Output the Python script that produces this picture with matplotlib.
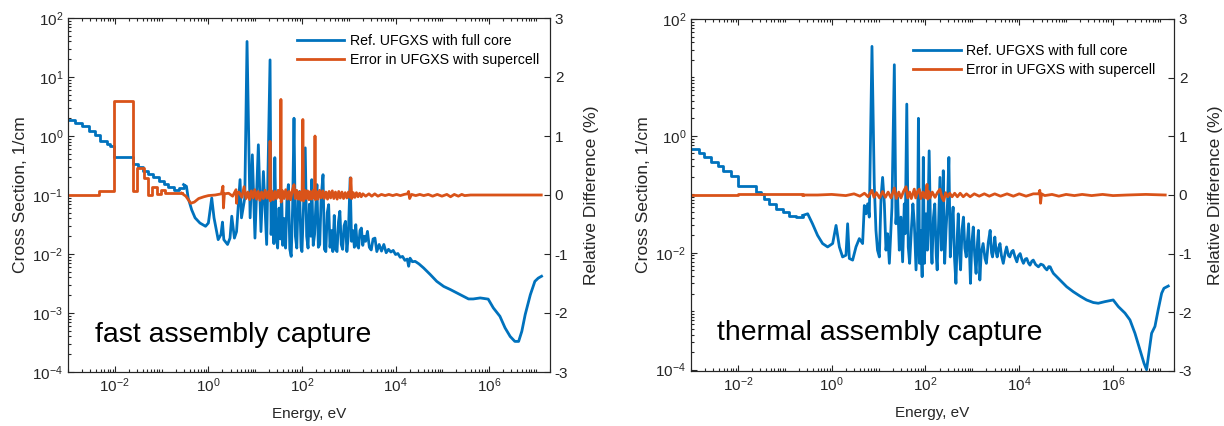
import numpy as np
import matplotlib
matplotlib.use("Agg")
import matplotlib.pyplot as plt
from matplotlib.ticker import (LogLocator, FixedLocator, LogFormatterSciNotation,
                               NullFormatter)

plt.rcParams['font.family'] = ['Liberation Sans', 'DejaVu Sans']
plt.rcParams['mathtext.fontset'] = 'custom'
plt.rcParams['mathtext.rm'] = 'Liberation Sans'
plt.rcParams['mathtext.it'] = 'Liberation Sans:italic'
plt.rcParams['axes.unicode_minus'] = False

BLUE = '#0072BD'
ORANGE = '#D95319'
DARK = '#262626'

# ---------------- fast assembly (left panel) ----------------
# coarse low-energy groups (stairs)
fast_grp_E = [1e-3, 1.43e-3, 1.98e-3, 2.75e-3, 3.8e-3, 4.9e-3, 6.8e-3, 8.0e-3, 9.4e-3, 0.025,
              0.032, 0.041, 0.052, 0.067, 0.086, 0.11, 0.14, 0.188, 0.236, 0.295]
fast_grp_xs = [1.89, 1.66, 1.46, 1.2, 1.05, 0.81, 0.73, 0.67, 0.435, 0.335,
               0.295, 0.258, 0.227, 0.2, 0.175, 0.153, 0.135, 0.123, 0.131, 0.15]
# fine groups (resonance region and above)
fast_E = [0.295, 0.34, 0.37, 0.44, 0.52, 0.66, 0.87, 1.0, 1.18, 1.32,
          1.62, 1.86, 2.0, 2.14, 2.57, 2.9, 3.16, 3.6, 4.0, 4.75,
          5.1, 6.0, 6.7, 7.8, 8.7, 9.9, 11.7, 13.3, 15, 17.6,
          20.8, 21.9, 23.4, 25.1, 26.3, 28.2, 30.2, 32.4, 34.7, 36.7,
          38.9, 41.7, 44.7, 47.9, 51.3, 55, 58.9, 63.1, 67.6, 72.4,
          77.6, 83.2, 89.1, 95.5, 100, 107, 117.5, 126, 135, 144.5,
          155, 162, 174, 186, 200, 209, 224, 240, 257, 282,
          302, 324, 347, 372, 398, 427, 457, 490, 525, 562,
          603, 646, 692, 741, 794, 851, 912, 977, 1072, 1148,
          1230, 1318, 1413, 1514, 1622, 1738, 1862, 1995, 2138, 2291,
          2512, 2754, 3020, 3311, 3631, 3981, 4467, 5012, 5623, 6310,
          7079, 7943, 8913, 10000, 11220, 12590, 14130, 15850, 17780, 19050,
          20420, 22900, 26300, 31600, 39800, 55000, 75900, 107000, 148000, 204000,
          282000, 363000, 457000, 646000, 955000, 1.23e6, 1.7e6, 2.19e6, 2.82e6, 3.55e6,
          4.27e6, 5e6, 5.9e6, 7.6e6, 9.5e6, 1.12e7, 1.32e7]
fast_xs = [0.15, 0.14, 0.089, 0.056, 0.041, 0.0335, 0.0295, 0.0335, 0.089, 0.041,
           0.0175, 0.0214, 0.0347, 0.0175, 0.0145, 0.0186, 0.0437, 0.0186, 0.024, 0.182,
           0.041, 0.089, 40, 0.041, 0.48, 0.0186, 0.71, 0.024, 0.25, 0.0145,
           19.5, 0.0214, 0.08, 0.015, 0.43, 0.02, 0.0126, 0.06, 0.018, 0.115,
           0.014, 0.04, 0.0126, 0.09, 0.15, 0.012, 0.0091, 0.06, 2.0, 0.02,
           0.0126, 0.1, 0.115, 0.013, 0.011, 0.05, 0.63, 0.02, 0.0126, 0.07,
           0.02, 0.182, 0.014, 0.0214, 0.08, 0.15, 0.013, 0.0145, 0.09, 0.221,
           0.012, 0.011, 0.05, 0.0686, 0.013, 0.025, 0.011, 0.045, 0.012, 0.011,
           0.035, 0.053, 0.0145, 0.012, 0.03, 0.0358, 0.011, 0.02, 0.195, 0.0164,
           0.025, 0.013, 0.0314, 0.014, 0.0126, 0.025, 0.0275, 0.014, 0.02, 0.0164,
           0.0242, 0.013, 0.0117, 0.018, 0.0186, 0.011, 0.0145, 0.0112, 0.0145, 0.0105,
           0.012, 0.0108, 0.0115, 0.0098, 0.0102, 0.0088, 0.0091, 0.0078, 0.0082, 0.0062,
           0.0085, 0.0074, 0.0075, 0.0068, 0.0058, 0.0045, 0.00344, 0.00282, 0.0025, 0.00219,
           0.00192, 0.00173, 0.00173, 0.0018, 0.00172, 0.00122, 0.00088, 0.00056, 0.0004, 0.00033,
           0.00033, 0.00049, 0.00094, 0.00204, 0.00344, 0.0039, 0.0042]

fast_err_grp_E = [1e-3, 4.5e-3, 9.4e-3, 0.0243, 0.0295, 0.043, 0.0525, 0.0638, 0.079, 0.098,
                  0.119, 0.27]
fast_err_grp = [0.005, 0.06, 1.6, 0.07, 0.45, 0.29, 0.0, 0.13, 0.01, 0.09,
                0.03, 0.03]
fast_err_E = [0.27, 0.33, 0.42, 0.5, 0.62, 0.8, 1.0, 1.4, 1.9, 2.05,
              2.1, 2.2, 2.7, 3.3, 3.9, 4.0, 4.1, 4.5, 5.2, 5.8,
              6.4, 7.0, 7.6, 8.3, 9.0, 9.8, 10.7, 11.6, 12.6, 13.7,
              15.0, 16.3, 17.7, 19.3, 20.5, 20.8, 21.1, 22.5, 24.5, 26.5,
              28.5, 31, 33.5, 35.0, 35.5, 36.0, 38.5, 41.5, 45, 49,
              53, 57, 62, 67.6, 72, 77, 83, 89, 95, 101,
              104.5, 108, 115, 123, 132, 142, 152, 163, 175, 186,
              190, 194, 205, 220, 238, 257, 278, 300, 325, 352,
              380, 410, 445, 480, 520, 565, 610, 660, 715, 775,
              840, 910, 985, 1060, 1110, 1160, 1250, 1350, 1460, 1580,
              1710, 1850, 2000, 2300, 2700, 3100, 3600, 4200, 5000, 6000,
              7200, 8700, 10500, 12700, 15300, 18000, 19000, 20000, 22000, 27000,
              33000, 40000, 50000, 62000, 78000, 98000, 125000, 150000, 180000, 220000,
              260000, 300000, 400000, 1e6, 3e6, 1.3e7]
fast_err = [0.03, -0.02, -0.14, -0.12, -0.06, -0.03, -0.01, 0.0, 0.02, 0.15,
            -0.22, 0.02, 0.03, -0.02, 0.09, -0.14, 0.02, 0.05, -0.04, 0.14,
            -0.06, 0.05, -0.08, 0.07, -0.05, 0.09, -0.07, 0.06, -0.09, 0.05,
            -0.06, 0.08, -0.05, 0.06, -0.07, 0.91, -0.1, 0.07, -0.08, 0.06,
            -0.06, 0.08, -0.05, 0.05, 1.62, -0.12, 0.07, -0.06, 0.09, -0.07,
            0.06, -0.08, 0.07, 0.175, -0.06, 0.08, -0.07, 0.05, -0.09, 0.07,
            1.28, -0.1, 0.08, -0.06, 0.07, -0.08, 0.06, -0.07, 0.08, -0.05,
            1.0, -0.08, 0.06, -0.07, 0.08, -0.05, 0.07, -0.06, 0.05, -0.07,
            0.06, -0.05, 0.07, -0.06, 0.05, -0.07, 0.06, -0.05, 0.05, -0.06,
            0.04, -0.05, 0.05, -0.04, 0.29, -0.06, 0.04, -0.04, 0.04, -0.03,
            0.03, -0.03, 0.02, -0.02, 0.02, -0.02, 0.02, -0.02, 0.01, -0.01,
            0.01, -0.01, 0.01, -0.01, 0.01, 0.02, 0.06, -0.06, 0.01, -0.01,
            0.01, -0.01, 0.01, -0.02, 0.01, -0.02, 0.01, -0.03, 0.01, -0.02,
            0.01, -0.01, 0.0, 0.0, 0.0, 0.0]

# ---------------- thermal assembly (right panel) ----------------
therm_grp_E = [1e-3, 1.51e-3, 1.93e-3, 2.67e-3, 3.7e-3, 4.74e-3, 7.1e-3, 9.9e-3, 0.0243, 0.0311,
               0.0366, 0.0469, 0.065, 0.090, 0.125, 0.173, 0.24]
therm_grp_xs = [0.593, 0.5, 0.428, 0.352, 0.308, 0.254, 0.209, 0.141, 0.111, 0.1017,
                0.0836, 0.0687, 0.0566, 0.0497, 0.0419, 0.0408, 0.0435]
therm_E = [0.24, 0.308, 0.39, 0.50, 0.64, 0.82, 1.05, 1.24, 1.46, 1.71,
           2.02, 2.19, 2.38, 2.8, 3.3, 3.89, 4.57, 4.97, 5.4, 5.85,
           6.35, 7.24, 8.1, 8.8, 9.5, 10.4, 11.3, 12.2, 13.3, 14.4,
           15.6, 17, 19.3, 21.7, 23.5, 25.5, 27.7, 30, 32.6, 35.4,
           37, 40, 43, 46, 50, 54, 58, 63, 68, 70.8,
           75, 80, 85, 90, 95, 102.6, 110, 120, 129, 138,
           148, 158, 170, 178, 190, 204, 219, 229, 240, 257,
           275, 295, 316, 339, 363, 389, 417, 447, 479, 501,
           537, 562, 603, 646, 692, 741, 794, 832, 871, 912,
           977, 1047, 1122, 1202, 1288, 1349, 1413, 1445, 1549, 1698,
           1862, 1995, 2188, 2399, 2570, 2692, 2884, 3020, 3236, 3388,
           3631, 3890, 4169, 4571, 5012, 5370, 5888, 6310, 6918, 7413,
           8128, 8913, 9550, 10470, 11480, 12300, 13490, 14450, 15850, 16980,
           18620, 19950, 22390, 25700, 28840, 32360, 35480, 38900, 42660, 45710,
           50120, 53700, 74000, 102600, 142000, 197000, 273000, 380000, 485000, 673000,
           1.01e6, 1.3e6, 1.8e6, 2.3e6, 2.94e6, 3.76e6, 4.57e6, 5.2e6, 5.94e6, 6.66e6,
           7.85e6, 9.2e6, 1.09e7, 1.22e7, 1.51e7]
therm_xs = [0.0435, 0.0465, 0.0314, 0.0199, 0.0144, 0.0126, 0.0144, 0.0294, 0.0126, 0.0085,
            0.0091, 0.0314, 0.008, 0.0075, 0.0126, 0.0175, 0.0144, 0.0644, 0.0465, 0.0687,
            0.0408, 34, 0.151, 0.0242, 0.0111, 0.0085, 0.0893, 0.195, 0.0687, 0.0111,
            0.0212, 0.0066, 0.0604, 16.5, 0.0314, 0.0893, 0.0111, 0.0408, 0.007, 0.0687,
            0.0212, 3.5, 0.0126, 0.0066, 0.0242, 0.0687, 0.0314, 0.0051, 0.0242, 2.0,
            0.0066, 0.0242, 0.0039, 0.43, 0.0066, 0.0465, 0.0111, 0.555, 0.02, 0.0066,
            0.04, 0.0687, 0.009, 0.0051, 0.03, 0.195, 0.0111, 0.02, 0.254, 0.0066,
            0.025, 0.0687, 0.428, 0.0085, 0.03, 0.0604, 0.008, 0.003, 0.02, 0.0465,
            0.009, 0.0051, 0.025, 0.0408, 0.012, 0.0085, 0.018, 0.0314, 0.01, 0.003,
            0.015, 0.0276, 0.009, 0.00444, 0.015, 0.0242, 0.009, 0.00342, 0.01, 0.0144,
            0.008, 0.0066, 0.015, 0.0242, 0.01, 0.0085, 0.013, 0.0186, 0.01, 0.0085,
            0.012, 0.0144, 0.009, 0.0066, 0.01, 0.0126, 0.009, 0.0085, 0.0105, 0.011,
            0.0085, 0.007, 0.0088, 0.0097, 0.0075, 0.0066, 0.0078, 0.008, 0.0066, 0.00615,
            0.0072, 0.0075, 0.0063, 0.00575, 0.0064, 0.00615, 0.0055, 0.0051, 0.0058, 0.00575,
            0.0049, 0.00444, 0.00342, 0.00263, 0.00216, 0.00182, 0.00156, 0.00141, 0.00137, 0.00146,
            0.00156, 0.0012, 0.00093, 0.00071, 0.00042, 0.00022, 0.00013, 0.0001, 0.00022, 0.00042,
            0.00055, 0.00106, 0.00203, 0.00247, 0.0027]

therm_err_grp_E = [1e-3, 9.9e-3, 0.24]
therm_err_grp = [0.0, 0.02, 0.0]
therm_err_E = [0.24, 0.5, 1.0, 2.0, 3.0, 4.0, 5.0, 6.0, 7.2, 8.0,
               9.0, 10.5, 12.2, 14, 16, 18.5, 21.7, 24, 27, 30,
               34, 38.5, 42, 46, 50, 57.8, 62, 68, 74, 80,
               88, 96, 103, 108, 112, 118, 125, 140, 160, 180,
               204, 225, 245, 270, 300, 330, 370, 420, 480, 550,
               640, 750, 900, 1100, 1400, 1800, 2300, 3000, 4000, 5500,
               7500, 10000, 14000, 20000, 26000, 27500, 28500, 30000, 35000, 50000,
               70000, 100000, 150000, 220000, 350000, 600000, 1e6, 2e6, 5e6, 1.3e7]
therm_err = [0.0, 0.0, 0.01, -0.01, 0.02, -0.02, 0.03, -0.03, 0.08, -0.04,
             0.04, -0.05, 0.06, -0.04, 0.05, -0.05, 0.12, -0.06, 0.05, -0.05,
             0.06, 0.14, -0.05, 0.05, -0.06, 0.1, -0.05, 0.06, 0.1, -0.06,
             0.05, -0.05, 0.06, 0.18, -0.07, 0.06, -0.05, 0.05, -0.04, 0.04,
             0.1, -0.04, -0.1, 0.04, -0.03, 0.03, -0.03, 0.03, -0.03, 0.03,
             -0.03, 0.02, -0.03, 0.02, -0.02, 0.02, -0.02, 0.02, -0.02, 0.02,
             -0.02, 0.02, -0.02, 0.02, 0.02, 0.08, -0.14, 0.02, -0.01, 0.01,
             -0.02, 0.01, -0.01, 0.01, -0.01, 0.01, -0.01, 0.0, 0.01, 0.0]

legend_labels = ['Ref. UFGXS with full core', 'Error in UFGXS with supercell']
x_major = [1e-2, 1e0, 1e2, 1e4, 1e6]
fast_y_major = [1e-4, 1e-3, 1e-2, 1e-1, 1e0, 1e1, 1e2]
therm_y_major = [1e-4, 1e-2, 1e0, 1e2]
LW = 2.0


def panel(rect, grp_E, grp_xs, E, xs, egrp_E, egrp, eE, err, ylim, y_major,
          title, title_xy, leg_xy):
    ax = fig.add_axes(rect)
    ax.step(grp_E, grp_xs, where='post', color=BLUE, lw=LW)
    ln1, = ax.plot(E, xs, color=BLUE, lw=LW)
    ax.set_xscale('log')
    ax.set_yscale('log')
    ax.set_xlim(1e-3, 2e7)
    ax.set_ylim(*ylim)

    ax.xaxis.set_major_locator(FixedLocator(x_major))
    ax.xaxis.set_minor_locator(LogLocator(base=10, subs=np.arange(1, 10), numticks=100))
    ax.xaxis.set_major_formatter(LogFormatterSciNotation(base=10))
    ax.xaxis.set_minor_formatter(NullFormatter())
    ax.yaxis.set_major_locator(FixedLocator(y_major))
    ax.yaxis.set_minor_locator(LogLocator(base=10, subs=np.arange(1, 10), numticks=100))
    ax.yaxis.set_major_formatter(LogFormatterSciNotation(base=10))
    ax.yaxis.set_minor_formatter(NullFormatter())
    ax.tick_params(which='both', direction='in', top=True, right=False,
                   colors=DARK, labelsize=11, width=0.8)
    ax.tick_params(which='major', length=4)
    ax.tick_params(which='minor', length=2)
    ax.set_xlabel('Energy, eV', fontsize=11, color=DARK, labelpad=8)
    ax.set_ylabel('Cross Section, 1/cm', fontsize=12.6, color=DARK, labelpad=3)
    for s in ax.spines.values():
        s.set_color(DARK)
        s.set_linewidth(0.8)

    ax2 = ax.twinx()
    ax2.step(egrp_E, egrp, where='post', color=ORANGE, lw=LW)
    ln2, = ax2.plot(eE, err, color=ORANGE, lw=LW)
    ax2.set_ylim(-3, 3)
    ax2.set_yticks(range(-3, 4))
    ax2.tick_params(direction='in', colors=DARK, labelsize=11, length=4, width=0.8)
    ax2.set_ylabel('Relative Difference (%)', fontsize=12.6, color=DARK, labelpad=11)
    for s in ax2.spines.values():
        s.set_color(DARK)
        s.set_linewidth(0.8)

    ax2.legend([ln1, ln2], legend_labels, loc='upper left', bbox_to_anchor=leg_xy,
               frameon=False, fontsize=10.2, handlelength=3.35, handletextpad=0.4,
               labelspacing=0.35, borderaxespad=0, borderpad=0)
    ax2.text(title_xy[0], title_xy[1], title, transform=ax.transAxes,
             fontsize=20.4, color='black', va='baseline', ha='left')
    return ax, ax2


fig = plt.figure(figsize=(12.24, 4.26), dpi=100)

panel([68 / 1224, 54 / 426, 482 / 1224, 354 / 426],
      fast_grp_E, fast_grp_xs, fast_E, fast_xs,
      fast_err_grp_E, fast_err_grp, fast_err_E, fast_err,
      (1e-4, 1e2), fast_y_major, 'fast assembly capture', (0.056, 0.085), (0.475, 0.955))

panel([691 / 1224, 55 / 426, 483 / 1224, 352 / 426],
      therm_grp_E, therm_grp_xs, therm_E, therm_xs,
      therm_err_grp_E, therm_err_grp, therm_err_E, therm_err,
      (9.5e-5, 1e2), therm_y_major, 'thermal assembly capture', (0.053, 0.088), (0.46, 0.93))

fig.savefig('out.png', dpi=100)
